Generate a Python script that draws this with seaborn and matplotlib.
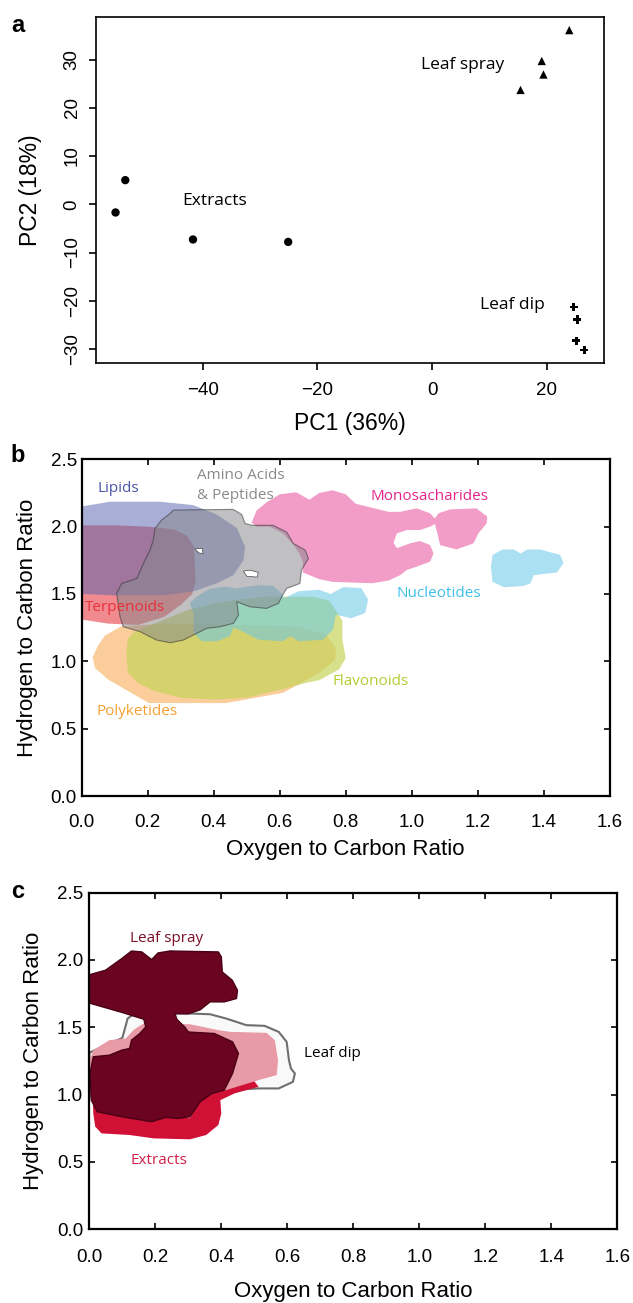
import matplotlib
matplotlib.use("Agg")
import matplotlib.pyplot as plt
import numpy as np
import pandas as pd
import seaborn as sns

# ---- panel a: PCA scores ----
pc1_extracts = [-55.2, -53.5, -41.7, -25.1]
pc2_extracts = [-1.7, 5.0, -7.3, -7.8]
pc1_spray = [23.9, 19.1, 19.4, 15.4]
pc2_spray = [36.1, 29.7, 26.9, 23.7]
pc1_dip = [24.7, 25.3, 25.1, 26.5]
pc2_dip = [-21.3, -23.9, -28.3, -30.2]
pca_labels = ["Extracts", "Leaf spray", "Leaf dip"]
pca_label_xy = [(-38.0, 0.6), (5.3, 28.9), (14.0, -20.8)]

# ---- panel b: compound class regions (O/C, H/C outlines) ----
terpenoids = [(0, 2.01), (0.1, 2.01), (0.2, 2.0), (0.28, 1.98), (0.32, 1.93), (0.34, 1.85),
              (0.345, 1.6), (0.335, 1.5), (0.3, 1.42), (0.25, 1.33), (0.17, 1.27), (0.08, 1.28), (0, 1.31)]
lipids = [(0, 2.15), (0.086, 2.185), (0.237, 2.185), (0.338, 2.16), (0.409, 2.09), (0.47, 1.99),
          (0.495, 1.85), (0.49, 1.75), (0.46, 1.64), (0.41, 1.58), (0.34, 1.52), (0.25, 1.49),
          (0.1, 1.49), (0, 1.5)]
polyketides = [(0.033, 1.03), (0.05, 1.12), (0.07, 1.19), (0.12, 1.26), (0.25, 1.28), (0.45, 1.27),
               (0.65, 1.26), (0.74, 1.2), (0.77, 1.1), (0.768, 1.01), (0.72, 0.914), (0.61, 0.766),
               (0.437, 0.69), (0.204, 0.69), (0.168, 0.74), (0.08, 0.865), (0.04, 0.95)]
flavonoids = [(0.135, 1.05), (0.14, 1.17), (0.16, 1.22), (0.24, 1.30), (0.32, 1.38), (0.42, 1.44),
              (0.55, 1.48), (0.7, 1.48), (0.75, 1.45), (0.77, 1.38), (0.79, 1.30), (0.79, 1.16),
              (0.80, 1.025), (0.78, 0.94), (0.72, 0.86), (0.68, 0.84), (0.62, 0.80), (0.5, 0.73),
              (0.4, 0.716), (0.3, 0.73), (0.22, 0.78), (0.17, 0.84), (0.14, 0.92)]
nucleotides_main = [(0.348, 1.479), (0.389, 1.541), (0.44, 1.554), (0.47, 1.541), (0.50, 1.554),
                    (0.54, 1.566), (0.58, 1.559), (0.606, 1.504), (0.614, 1.47), (0.657, 1.52),
                    (0.719, 1.532), (0.755, 1.50), (0.792, 1.551), (0.847, 1.544), (0.868, 1.458),
                    (0.859, 1.359), (0.817, 1.32), (0.77, 1.346), (0.761, 1.235), (0.731, 1.16),
                    (0.657, 1.149), (0.633, 1.186), (0.608, 1.149), (0.535, 1.161), (0.486, 1.223),
                    (0.46, 1.25), (0.449, 1.186), (0.41, 1.149), (0.364, 1.149), (0.339, 1.21),
                    (0.339, 1.359), (0.327, 1.43)]
nucleotides_right = [(1.245, 1.79), (1.275, 1.83), (1.31, 1.83), (1.33, 1.80), (1.35, 1.83),
                     (1.39, 1.83), (1.45, 1.79), (1.46, 1.73), (1.44, 1.66), (1.37, 1.64),
                     (1.36, 1.58), (1.34, 1.56), (1.28, 1.55), (1.245, 1.59), (1.24, 1.70)]
monosaccharides = [(0.515, 2.03), (0.53, 2.12), (0.56, 2.18), (0.60, 2.24), (0.65, 2.255), (0.69, 2.2),
                   (0.72, 2.25), (0.76, 2.27), (0.80, 2.24), (0.83, 2.17), (0.88, 2.14), (0.93, 2.11),
                   (0.965, 2.11), (1.015, 2.136), (1.056, 2.099), (1.07, 2.06), (1.081, 2.099),
                   (1.116, 2.128), (1.196, 2.136), (1.229, 2.074), (1.227, 2.024), (1.202, 1.95),
                   (1.187, 1.876), (1.136, 1.831), (1.086, 1.863), (1.078, 1.95), (1.07, 2.02),
                   (1.056, 2.0), (1.025, 1.975), (0.985, 1.975), (0.955, 1.95), (0.945, 1.88),
                   (0.955, 1.84), (0.995, 1.876), (1.025, 1.893), (1.056, 1.863), (1.066, 1.802),
                   (1.056, 1.74), (1.015, 1.703), (0.985, 1.678), (0.965, 1.64), (0.93, 1.6),
                   (0.88, 1.58), (0.82, 1.585), (0.76, 1.59), (0.72, 1.61), (0.67, 1.66),
                   (0.67, 1.74), (0.66, 1.8), (0.64, 1.87), (0.61, 1.95), (0.57, 2.0), (0.53, 2.0)]
amino_acids = [(0.278, 2.123), (0.459, 2.128), (0.485, 2.09), (0.495, 2.024), (0.515, 2.01),
               (0.58, 2.01), (0.621, 1.96), (0.641, 1.875), (0.677, 1.826), (0.687, 1.764),
               (0.666, 1.677), (0.661, 1.578), (0.621, 1.541), (0.606, 1.48), (0.596, 1.43),
               (0.56, 1.393), (0.51, 1.405), (0.47, 1.442), (0.475, 1.343), (0.46, 1.282),
               (0.419, 1.257), (0.379, 1.245), (0.338, 1.195), (0.308, 1.158), (0.268, 1.138),
               (0.227, 1.158), (0.177, 1.22), (0.126, 1.257), (0.116, 1.331), (0.106, 1.504),
               (0.121, 1.578), (0.167, 1.615), (0.187, 1.727), (0.207, 1.826), (0.217, 1.90),
               (0.222, 1.987), (0.242, 2.049), (0.268, 2.098)]
amino_hole_1 = [(0.343, 1.835), (0.365, 1.84), (0.368, 1.80), (0.355, 1.805)]
amino_hole_2 = [(0.49, 1.67), (0.51, 1.677), (0.535, 1.66), (0.532, 1.625), (0.50, 1.632)]
class_names = ["Lipids", "Amino Acids\n& Peptides", "Monosacharides", "Nucleotides",
               "Terpenoids", "Flavonoids", "Polyketides"]
class_label_xy = [(0.11, 2.284), (0.348, 2.306), (1.054, 2.223), (1.081, 1.50),
                  (0.13, 1.40), (0.874, 0.852), (0.169, 0.63)]

# ---- panel c: sampling method regions ----
leaf_dip = [(0, 1.31), (0.05, 1.37), (0.10, 1.42), (0.11, 1.51), (0.116, 1.565), (0.134, 1.597),
            (0.256, 1.607), (0.366, 1.597), (0.415, 1.565), (0.476, 1.516), (0.531, 1.511),
            (0.574, 1.466), (0.598, 1.392), (0.605, 1.256), (0.611, 1.194), (0.623, 1.157),
            (0.617, 1.095), (0.574, 1.046), (0.513, 1.046), (0.415, 1.034), (0.366, 0.997),
            (0.342, 0.935), (0.318, 0.836), (0.293, 0.799), (0.269, 0.811), (0.2, 0.85),
            (0.05, 0.9), (0, 1.0)]
extracts = [(0.01, 1.0), (0.012, 0.86), (0.018, 0.762), (0.037, 0.712), (0.122, 0.70),
            (0.195, 0.675), (0.305, 0.668), (0.354, 0.70), (0.391, 0.774), (0.40, 0.861),
            (0.397, 0.959), (0.44, 1.009), (0.513, 1.058), (0.50, 1.1), (0.35, 1.1), (0.2, 1.0)]
extracts_light = [(0, 1.25), (0.012, 1.33), (0.061, 1.405), (0.11, 1.417), (0.134, 1.479),
                  (0.147, 1.503), (0.165, 1.528), (0.305, 1.523), (0.391, 1.479), (0.428, 1.466),
                  (0.537, 1.459), (0.562, 1.405), (0.572, 1.256), (0.568, 1.145), (0.513, 1.108),
                  (0.415, 1.034), (0.354, 1.009), (0.33, 0.935), (0.305, 0.824), (0.2, 0.85),
                  (0.05, 0.9), (0, 1.0)]
leaf_spray = [(0, 1.89), (0.049, 1.924), (0.098, 2.01), (0.128, 2.067), (0.159, 2.06), (0.189, 2.003),
              (0.208, 2.052), (0.244, 2.067), (0.391, 2.06), (0.40, 2.023), (0.403, 1.911),
              (0.433, 1.85), (0.449, 1.775), (0.446, 1.714), (0.409, 1.689), (0.366, 1.689),
              (0.336, 1.63), (0.30, 1.60), (0.26, 1.60), (0.265, 1.56), (0.29, 1.50), (0.30, 1.465),
              (0.379, 1.454), (0.434, 1.392), (0.452, 1.306), (0.434, 1.157), (0.409, 1.034),
              (0.372, 1.009), (0.336, 0.947), (0.305, 0.836), (0.269, 0.823), (0.232, 0.831),
              (0.189, 0.799), (0.098, 0.836), (0.024, 0.873), (0.006, 0.959), (0.002, 1.157),
              (0.012, 1.281), (0.061, 1.293), (0.098, 1.33), (0.122, 1.343), (0.128, 1.405),
              (0.153, 1.454), (0.171, 1.503), (0.165, 1.56), (0.10, 1.61), (0.0, 1.68)]
method_names = ["Leaf spray", "Leaf dip", "Extracts"]
method_label_xy = [(0.233, 2.159), (0.736, 1.306), (0.21, 0.514)]

sns.set_style("ticks")
plt.rcParams["font.family"] = ["Liberation Sans", "DejaVu Sans"]
for key in ["text.color", "axes.labelcolor", "xtick.color", "ytick.color", "axes.edgecolor"]:
    plt.rcParams[key] = "black"
LABEL_FONT = ["Open Sans", "DejaVu Sans"]

fig = plt.figure(figsize=(6.33, 13.03), dpi=100)


def fill(ax, pts, **kw):
    xs, ys = zip(*pts)
    ax.fill(xs, ys, joinstyle="round", **kw)


# ---------------- a ----------------
ax_a = fig.add_axes([0.1517, 0.7216, 0.802, 0.2651])
df_a = pd.DataFrame({
    "pc1": pc1_extracts + pc1_spray + pc1_dip,
    "pc2": pc2_extracts + pc2_spray + pc2_dip,
    "group": ["Extracts"] * 4 + ["Leaf spray"] * 4 + ["Leaf dip"] * 4,
})
sns.scatterplot(data=df_a, x="pc1", y="pc2", style="group",
                markers={"Extracts": "o", "Leaf spray": "^", "Leaf dip": "P"},
                color="black", s=36, linewidth=0, legend=False, ax=ax_a)
for name, (x, y) in zip(pca_labels, pca_label_xy):
    ax_a.text(x, y, name, ha="center", va="center", fontsize=12.5, family=LABEL_FONT)
ax_a.set_xlim(-58.6, 29.9)
ax_a.set_ylim(-32.85, 38.75)
ax_a.set_xticks([-40, -20, 0, 20])
ax_a.set_yticks([-30, -20, -10, 0, 10, 20, 30])
ax_a.tick_params(direction="out", length=5, width=1.2, labelsize=13.5)
ax_a.tick_params(axis="x", pad=9)
ax_a.tick_params(axis="y", pad=6)
for lab in ax_a.get_yticklabels():
    lab.set_rotation(90)
    lab.set_va("center")
for sp in ax_a.spines.values():
    sp.set_linewidth(1.2)
ax_a.set_xlabel("PC1 (36%)", fontsize=16.5, va="center")
ax_a.set_ylabel("PC2 (18%)", fontsize=16.5, va="center")
ax_a.xaxis.set_label_coords(0.5, -0.175)
ax_a.yaxis.set_label_coords(-0.13, 0.5)


def style_vk(ax, xpad, ypad):
    ax.set_xlim(0, 1.6)
    ax.set_ylim(0, 2.5)
    ax.set_xticks(np.arange(0, 1.61, 0.2))
    ax.set_yticks(np.arange(0, 2.51, 0.5))
    ax.xaxis.set_major_formatter(matplotlib.ticker.FormatStrFormatter("%.1f"))
    ax.yaxis.set_major_formatter(matplotlib.ticker.FormatStrFormatter("%.1f"))
    ax.tick_params(direction="in", top=True, right=True, length=4, width=1.2, labelsize=13.5)
    ax.tick_params(axis="x", pad=xpad)
    ax.tick_params(axis="y", pad=ypad)
    for sp in ax.spines.values():
        sp.set_linewidth(1.6)
    ax.set_xlabel("Oxygen to Carbon Ratio", fontsize=16, va="center")
    ax.set_ylabel("Hydrogen to Carbon Ratio", fontsize=16, va="center")


# ---------------- b ----------------
ax_b = fig.add_axes([0.1291, 0.3891, 0.8341, 0.2584])
fill(ax_b, terpenoids, color="#f08a8e", lw=0)
fill(ax_b, lipids, color="#5865b0", alpha=0.52, lw=0)
fill(ax_b, polyketides, color="#facd9b", lw=0)
fill(ax_b, flavonoids, color="#c4d356", alpha=0.68, lw=0)
fill(ax_b, nucleotides_main, color="#66c7e7", alpha=0.55, lw=0)
fill(ax_b, nucleotides_right, color="#abe0f2", lw=0)
fill(ax_b, monosaccharides, color="#f29cc8", lw=0)
fill(ax_b, amino_acids, facecolor="#86878c", alpha=0.52, edgecolor="#2a2a2a", lw=0.8)
fill(ax_b, amino_hole_1, facecolor="white", edgecolor="#444444", lw=0.5)
fill(ax_b, amino_hole_2, facecolor="white", edgecolor="#444444", lw=0.5)
class_colors = ["#4a56a6", "#8a8a8a", "#e4268c", "#3fc0ea", "#e8303a", "#b4cc32", "#f5a032"]
for name, (x, y), c in zip(class_names, class_label_xy, class_colors):
    ha = "left" if name.startswith("Amino") else "center"
    ax_b.text(x, y, name, ha=ha, va="center", color=c, fontsize=11,
              family=LABEL_FONT, linespacing=1.45)
style_vk(ax_b, 13, 3.5)
ax_b.xaxis.set_label_coords(0.5, -0.16)
ax_b.yaxis.set_label_coords(-0.1036, 0.5)

# ---------------- c ----------------
ax_c = fig.add_axes([0.1411, 0.0566, 0.8341, 0.2583])
fill(ax_c, leaf_dip, facecolor="#f9f9f9", edgecolor="#6e6e6e", lw=1.5)
fill(ax_c, extracts, color="#d01035", lw=0)
fill(ax_c, extracts_light, color="#e89aa6", lw=0)
fill(ax_c, leaf_spray, facecolor="#6a0420", edgecolor="#4a0015", lw=1.0)
method_colors = ["#7a0f25", "black", "#d0204a"]
for name, (x, y), c in zip(method_names, method_label_xy, method_colors):
    ax_c.text(x, y, name, ha="center", va="center", color=c, fontsize=11, family=LABEL_FONT)
style_vk(ax_c, 14, 4.5)
ax_c.xaxis.set_label_coords(0.5, -0.185)
ax_c.yaxis.set_label_coords(-0.1066, 0.5)

# panel letters
for letter, (px, py) in zip("abc", [(18, 26), (18, 456), (18, 891)]):
    fig.text(px / 633, 1 - py / 1303, letter, fontsize=17, fontweight="bold",
             ha="center", va="center")

fig.savefig("out.png", dpi=100)
